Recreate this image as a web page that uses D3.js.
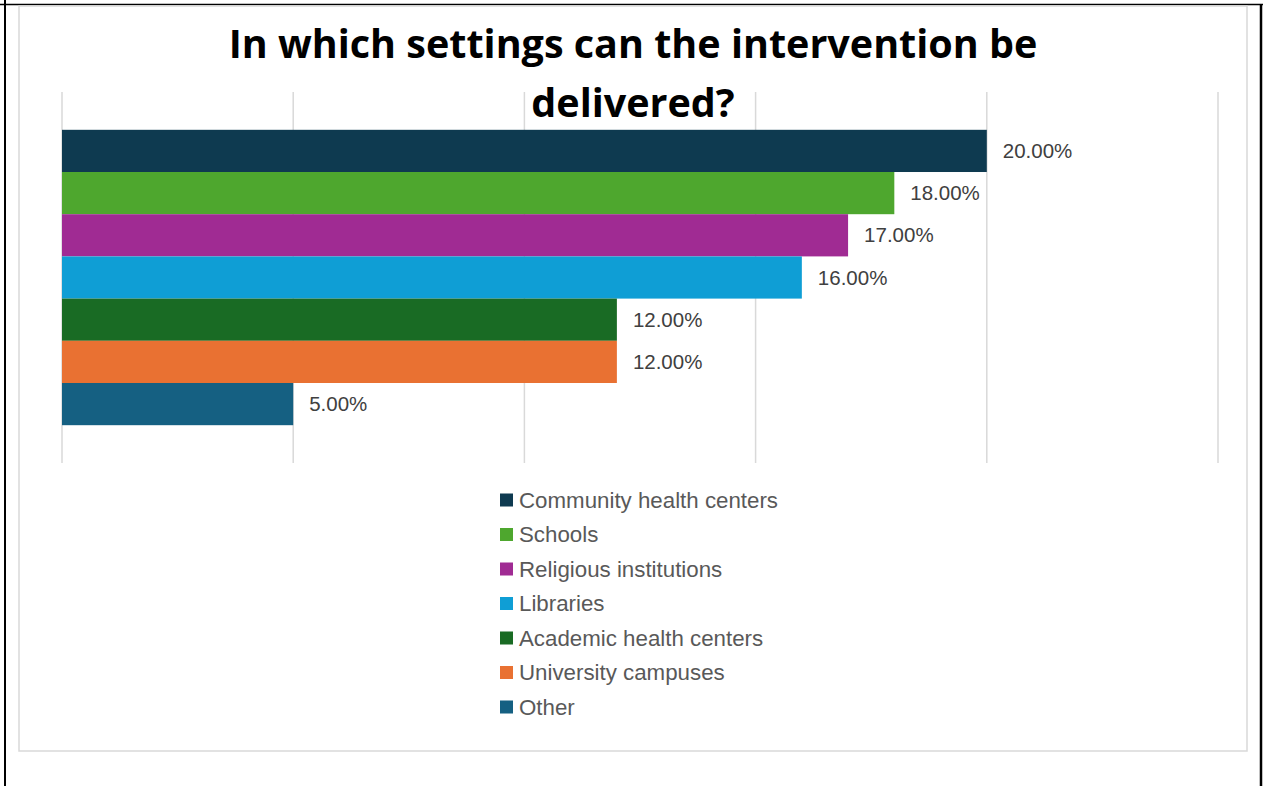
<!DOCTYPE html>
<html>
<head>
<meta charset="utf-8">
<script src="https://cdn.jsdelivr.net/npm/d3@7/dist/d3.min.js"></script>
<style>
  html, body { margin: 0; padding: 0; background: #ffffff; }
  svg { display: block; }
</style>
</head>
<body>
<div id="chart"></div>
<script>
// Settings and share of responses for each
const settings = ["Community health centers", "Schools", "Religious institutions", "Libraries",
                  "Academic health centers", "University campuses", "Other"];
const shares = [20, 18, 17, 16, 12, 12, 5];
const colors = ["#0e3a50", "#4ea72e", "#a02b93", "#0f9ed5", "#196b24", "#e97132", "#156082"];
const gridTicks = [0, 5, 10, 15, 20, 25];
const titleLines = ["In which settings can the intervention be", "delivered?"];
const category = [""];

const W = 1263, H = 786;
const svg = d3.select("#chart").append("svg").attr("width", W).attr("height", H);

// Page frame lines
svg.append("line").attr("x1", 0).attr("x2", W).attr("y1", 4.5).attr("y2", 4.5)
  .attr("stroke", "#000").attr("stroke-width", 1.5);
svg.append("line").attr("x1", 5).attr("x2", 5).attr("y1", 0).attr("y2", H)
  .attr("stroke", "#000").attr("stroke-width", 2);
svg.append("line").attr("x1", 1261).attr("x2", 1261).attr("y1", 4).attr("y2", H)
  .attr("stroke", "#000").attr("stroke-width", 2.5);

// Chart area border
svg.append("rect").attr("x", 19).attr("y", 6).attr("width", 1228).attr("height", 745)
  .attr("fill", "#fff").attr("stroke", "#d9d9d9").attr("stroke-width", 1.5);

const plot = { left: 62, right: 1218, top: 92, bottom: 463 };

const x = d3.scaleLinear().domain([0, 25]).range([plot.left, plot.right]);
const y0 = d3.scaleBand().domain(category).range([plot.top, plot.bottom]).paddingOuter(0.128).paddingInner(0);
const y1 = d3.scaleBand().domain(settings).range([0, y0.bandwidth()]).padding(0);

// Vertical gridlines
svg.append("g").selectAll("line").data(gridTicks).join("line")
  .attr("x1", d => x(d)).attr("x2", d => x(d))
  .attr("y1", plot.top).attr("y2", plot.bottom)
  .attr("stroke", "#d9d9d9").attr("stroke-width", 1.5);

// Bars
const g = svg.append("g").attr("transform", `translate(0,${y0(category[0])})`);
g.selectAll("rect").data(settings).join("rect")
  .attr("x", x(0))
  .attr("y", d => y1(d))
  .attr("width", (d, i) => x(shares[i]) - x(0))
  .attr("height", y1.bandwidth())
  .attr("fill", (d, i) => colors[i]);

// Value labels
g.selectAll("text").data(settings).join("text")
  .attr("x", (d, i) => x(shares[i]) + 16)
  .attr("y", d => y1(d) + y1.bandwidth() / 2)
  .attr("dy", "0.35em")
  .attr("font-family", "'Liberation Sans', Arial, sans-serif")
  .attr("font-size", 20.5)
  .attr("fill", "#404040")
  .text((d, i) => shares[i].toFixed(2) + "%");

// Title
svg.append("g").selectAll("text").data(titleLines).join("text")
  .attr("x", 633)
  .attr("y", (d, i) => 58 + i * 59)
  .attr("text-anchor", "middle")
  .attr("font-family", "'Open Sans', 'Liberation Sans', sans-serif")
  .attr("font-weight", "bold")
  .attr("font-size", 39.5)
  .attr("fill", "#000")
  .text(d => d);

// Legend
const legend = svg.append("g").selectAll("g").data(settings).join("g")
  .attr("transform", (d, i) => `translate(500,${500 + i * 34.5})`);
legend.append("rect").attr("x", 0).attr("y", -6.5).attr("width", 13).attr("height", 13)
  .attr("fill", (d, i) => colors[i]);
legend.append("text").attr("x", 19).attr("y", 0).attr("dy", "0.35em")
  .attr("font-family", "'Liberation Sans', Arial, sans-serif")
  .attr("font-size", 22.3)
  .attr("fill", "#595959")
  .text(d => d);
</script>
</body>
</html>
